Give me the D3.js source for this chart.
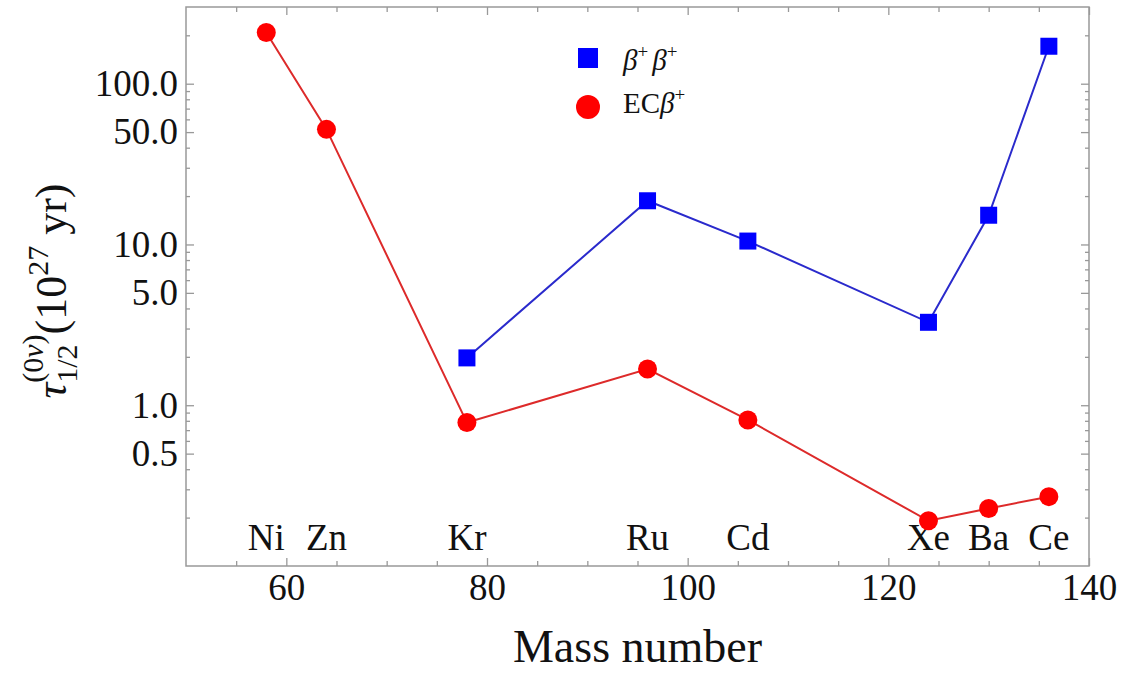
<!DOCTYPE html>
<html>
<head>
<meta charset="utf-8">
<script src="https://cdn.jsdelivr.net/npm/d3@7"></script>
<style>
  body { margin: 0; background: #fff; }
  svg { font-family: "Liberation Serif", "Times New Roman", serif; }
</style>
</head>
<body>
<div id="chart"></div>
<script>
// nuclei, mass numbers and half-lives (10^27 yr)
var elements = ['Ni', 'Zn', 'Kr', 'Ru', 'Cd', 'Xe', 'Ba', 'Ce'];
var massNumbers = [58, 64, 78, 96, 106, 124, 130, 136];
var ecBetaValues = [208, 52, 0.78, 1.68, 0.81, 0.191, 0.228, 0.27];
var betaBetaMass = [78, 96, 106, 124, 130, 136];
var betaBetaValues = [1.97, 18.7, 10.5, 3.28, 15.2, 171];
var yMajorTicks = [0.5, 1, 5, 10, 50, 100];
var xMajorTicks = [60, 80, 100, 120, 140];

var width = 1121, height = 674;
// plot frame edges (window.top is read-only, so no plain "top")
var plotLeft = 186, plotRight = 1089, plotTop = 7, plotBottom = 566;

var svg = d3.select('#chart').append('svg')
  .attr('width', width)
  .attr('height', height);

var x = d3.scaleLinear().domain([50, 140]).range([plotLeft, plotRight]);
var y = d3.scaleLog().domain([0.1, 300]).range([plotBottom, plotTop]);

// minor ticks: every integer multiple in each decade, every 5 mass units
var yMinor = [];
[0.1, 1, 10, 100].forEach(function(dec) {
  for (var k = 1; k <= 9; k++) {
    var v = +(dec * k).toPrecision(3);
    if (v > 0.1 && v < 300 && yMajorTicks.indexOf(v) < 0) yMinor.push(v);
  }
});
var xMinor = d3.range(55, 140, 5).filter(function(v) { return xMajorTicks.indexOf(v) < 0; });

var frameColor = '#999';

function styleAxis(g) {
  g.select('.domain').remove();
  g.selectAll('line').attr('stroke', frameColor).attr('stroke-width', 1.3);
  g.selectAll('text').attr('fill', '#111').style('font-size', '37px')
    .style('font-family', '"Liberation Serif", "Times New Roman", serif');
}

// left axis with labels
svg.append('g').attr('transform', 'translate(' + plotLeft + ',0)')
  .call(d3.axisLeft(y).tickValues(yMajorTicks).tickSizeInner(-8).tickSizeOuter(0)
    .tickPadding(8).tickFormat(d3.format('.1f')))
  .call(styleAxis);
svg.append('g').attr('transform', 'translate(' + plotLeft + ',0)')
  .call(d3.axisLeft(y).tickValues(yMinor).tickSizeInner(-4).tickSizeOuter(0).tickFormat(''))
  .call(styleAxis);
// right mirror
svg.append('g').attr('transform', 'translate(' + plotRight + ',0)')
  .call(d3.axisRight(y).tickValues(yMajorTicks).tickSizeInner(-8).tickSizeOuter(0).tickFormat(''))
  .call(styleAxis);
svg.append('g').attr('transform', 'translate(' + plotRight + ',0)')
  .call(d3.axisRight(y).tickValues(yMinor).tickSizeInner(-4).tickSizeOuter(0).tickFormat(''))
  .call(styleAxis);

// bottom axis with labels
svg.append('g').attr('transform', 'translate(0,' + plotBottom + ')')
  .call(d3.axisBottom(x).tickValues(xMajorTicks).tickSizeInner(-8).tickSizeOuter(0).tickPadding(8))
  .call(styleAxis);
svg.append('g').attr('transform', 'translate(0,' + plotBottom + ')')
  .call(d3.axisBottom(x).tickValues(xMinor).tickSizeInner(-5).tickSizeOuter(0).tickFormat(''))
  .call(styleAxis);
// top mirror
svg.append('g').attr('transform', 'translate(0,' + plotTop + ')')
  .call(d3.axisTop(x).tickValues(xMajorTicks).tickSizeInner(-8).tickSizeOuter(0).tickFormat(''))
  .call(styleAxis);
svg.append('g').attr('transform', 'translate(0,' + plotTop + ')')
  .call(d3.axisTop(x).tickValues(xMinor).tickSizeInner(-5).tickSizeOuter(0).tickFormat(''))
  .call(styleAxis);

// frame
svg.append('rect')
  .attr('x', plotLeft).attr('y', plotTop)
  .attr('width', plotRight - plotLeft).attr('height', plotBottom - plotTop)
  .attr('fill', 'none').attr('stroke', frameColor).attr('stroke-width', 1.5);

// element names along the bottom
svg.append('g').selectAll('text')
  .data(elements)
  .enter()
  .append('text')
  .attr('x', function(d, i) { return x(massNumbers[i]); })
  .attr('y', 550)
  .attr('text-anchor', 'middle')
  .style('font-size', '37px')
  .attr('fill', '#111')
  .text(function(d) { return d; });

// lines
var line = d3.line()
  .x(function(d) { return x(d[0]); })
  .y(function(d) { return y(d[1]); });

var ecData = massNumbers.map(function(m, i) { return [m, ecBetaValues[i]]; });
var bbData = betaBetaMass.map(function(m, i) { return [m, betaBetaValues[i]]; });

svg.append('path').datum(ecData)
  .attr('d', line).attr('fill', 'none')
  .attr('stroke', '#dd2a2a').attr('stroke-width', 2);
svg.append('path').datum(bbData)
  .attr('d', line).attr('fill', 'none')
  .attr('stroke', '#2a2acc').attr('stroke-width', 2);

svg.append('g').selectAll('circle')
  .data(ecData)
  .enter()
  .append('circle')
  .attr('cx', function(d) { return x(d[0]); })
  .attr('cy', function(d) { return y(d[1]); })
  .attr('r', 9.5)
  .attr('fill', '#ff0000');

var sq = 17;
svg.append('g').selectAll('rect')
  .data(bbData)
  .enter()
  .append('rect')
  .attr('x', function(d) { return x(d[0]) - sq / 2; })
  .attr('y', function(d) { return y(d[1]) - sq / 2; })
  .attr('width', sq).attr('height', sq)
  .attr('fill', '#0000ff');

// legend
var legend = svg.append('g');
legend.append('rect').attr('x', 578).attr('y', 48).attr('width', 20).attr('height', 20).attr('fill', '#0000ff');
legend.append('circle').attr('cx', 588).attr('cy', 107).attr('r', 12).attr('fill', '#ff0000');

var t1 = legend.append('text').attr('x', 623).attr('y', 70).style('font-size', '29px').attr('fill', '#111');
t1.append('tspan').style('font-style', 'italic').text('β');
t1.append('tspan').attr('dy', -12).style('font-size', '19px').text('+');
t1.append('tspan').attr('dy', 12).attr('dx', 4).style('font-style', 'italic').text('β');
t1.append('tspan').attr('dy', -12).style('font-size', '19px').text('+');

var t2 = legend.append('text').attr('x', 623).attr('y', 113).style('font-size', '29px').attr('fill', '#111');
t2.append('tspan').text('EC');
t2.append('tspan').style('font-style', 'italic').text('β');
t2.append('tspan').attr('dy', -12).style('font-size', '19px').text('+');

// axis titles
svg.append('text')
  .attr('x', (plotLeft + plotRight) / 2)
  .attr('y', 662)
  .attr('text-anchor', 'middle')
  .style('font-size', '46px')
  .attr('fill', '#111')
  .text('Mass number');

var yt = svg.append('text')
  .attr('transform', 'translate(66,291) rotate(-90)')
  .attr('text-anchor', 'middle')
  .style('font-size', '44px')
  .attr('fill', '#111');
yt.append('tspan').style('font-style', 'italic').text('τ');
var sub = yt.append('tspan').attr('dy', 11).style('font-size', '30px').text('1/2');
var sup = yt.append('tspan').attr('dy', -34).style('font-size', '30px').text('(0');
yt.append('tspan').attr('style', 'font-size:30px;font-style:italic').text('ν');
yt.append('tspan').style('font-size', '30px').text(')');
yt.append('tspan').attr('dy', 23).text('(10');
yt.append('tspan').attr('dy', -18).style('font-size', '30px').text('27');
yt.append('tspan').attr('dy', 18).text(' yr)');
// stack the superscript over the subscript
sup.attr('dx', -sub.node().getComputedTextLength());
</script>
</body>
</html>
